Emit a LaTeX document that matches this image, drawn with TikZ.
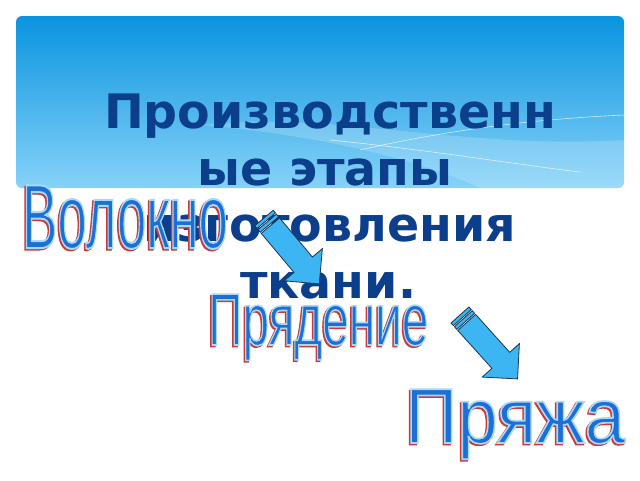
\documentclass[tikz,border=0pt]{standalone}
\usepackage{fontspec}
\usepackage{graphicx}
\setmainfont{DejaVu Sans}
\newfontfamily\wafont[FakeBold=2.2]{Liberation Sans}
\definecolor{titleblue}{HTML}{0B3F8C}
\definecolor{boxtop}{HTML}{0A94DF}
\definecolor{boxbot}{HTML}{86D2F8}
\definecolor{wared}{HTML}{C83A3A}
\definecolor{arrowfill}{HTML}{3DB5F2}
\definecolor{arrowline}{HTML}{1A3550}
% blue fill with a light blue outline, over a red shadow
\newcommand\waWord[2]{%
  \rlap{\color{wared}\kern-1.5pt\raisebox{-1.5pt}{\scalebox{#1}[1]{#2}}}%
  \special{pdf:bcolor [0.11 0.435 0.84] [0.66 0.855 0.97]}%
  \scalebox{#1}[1]{#2}%
  \special{pdf:ecolor}}
\tikzset{
  titletext/.style={anchor=base,inner sep=0pt,text=titleblue,font=\fontsize{47.5}{56}\selectfont\bfseries},
  wordart/.style={anchor=base west,inner sep=0pt},
  arrowpart/.style={fill=arrowfill,draw=arrowline,line width=0.8pt,line join=miter},
  blockarrow/.pic={
    \path[arrowpart] (0,-12) rectangle (3.5,12);
    \path[arrowpart] (5,-12) rectangle (8.5,12);
    \path[arrowpart] (10,-12) -- (61,-12) -- (61,-25) -- (86,0) -- (61,25) -- (61,12) -- (10,12) -- cycle;
  }
}
\begin{document}
\begin{tikzpicture}[x=1pt,y=-1pt]
\useasboundingbox (0,0) rectangle (640,480);
\fill[white] (0,0) rectangle (640,480);
% title box
\shade[top color=boxtop,bottom color=boxbot,rounded corners=6pt] (16,16) rectangle (624,188);
\begin{scope}
\clip[rounded corners=6pt] (16,16) rectangle (624,188);
\fill[white,opacity=0.18] (200,125) .. controls (330,110) and (460,150) .. (624,140)
   -- (624,188) -- (480,188) .. controls (420,160) and (320,135) .. (200,125) -- cycle;
\draw[white,opacity=0.7,line width=0.6pt] (360,150) .. controls (470,125) and (560,118) .. (624,115);
\draw[white,opacity=0.7,line width=0.6pt] (330,140) .. controls (430,150) and (520,165) .. (580,172);
\end{scope}
% title text
\node[titletext] (t1) at (330,128) {Производственн};
\node[titletext] (t2) at (325,185) {ые этапы};
\node[titletext] (t3) at (330,241) {изготовления};
\node[titletext] (t4) at (328,298) {ткани.};
% word art
\node[wordart] (w1) at (22,248) {\wafont\fontsize{91}{91}\selectfont\waWord{0.58}{Волокно}};
\node[wordart] (w2) at (208,345) {\wafont\fontsize{74}{74}\selectfont\waWord{0.645}{Прядение}};
\node[wordart] (w3) at (405,443) {\wafont\fontsize{78}{78}\selectfont\waWord{0.93}{Пряжа}};
% arrows
\pic (a1) [rotate=-50] at (264,218) {blockarrow};
\pic (a2) [rotate=-48] at (460,315) {blockarrow};
\end{tikzpicture}
\end{document}
